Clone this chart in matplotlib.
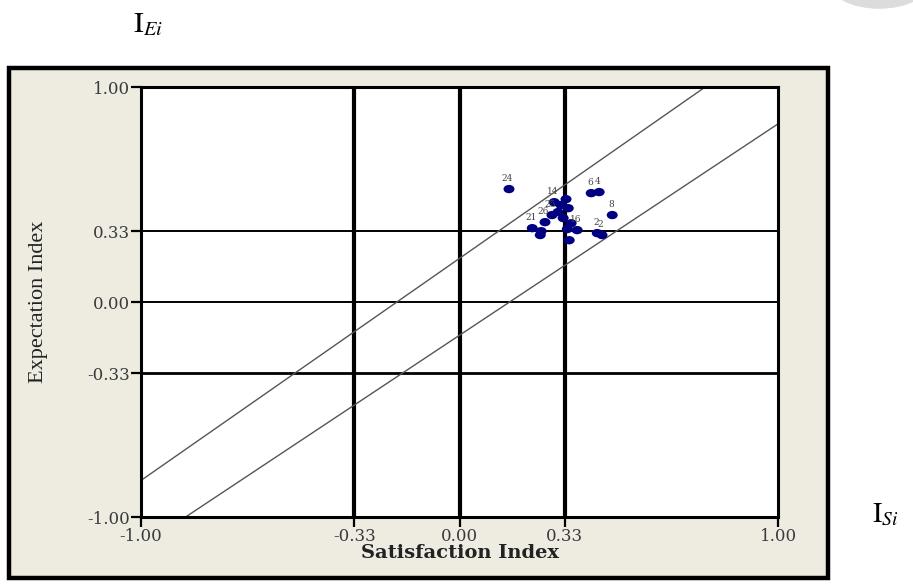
import matplotlib.pyplot as plt
from matplotlib.markers import MarkerStyle
from matplotlib.patches import Rectangle, Ellipse
from matplotlib.transforms import Affine2D

# satisfaction (x) / expectation (y) index per item
sat_index = [0.155, 0.413, 0.438, 0.479, 0.432, 0.447, 0.297, 0.334, 0.341,
             0.290, 0.309, 0.325, 0.268, 0.228, 0.256, 0.253, 0.350, 0.369,
             0.338, 0.344, 0.318]
exp_index = [0.526, 0.507, 0.512, 0.405, 0.321, 0.312, 0.465, 0.479, 0.437,
             0.405, 0.419, 0.391, 0.372, 0.344, 0.330, 0.312, 0.367, 0.335,
             0.340, 0.288, 0.452]
item_labels = ["24", "6", "4", "8", "2", "2", "14", "", "",
               "25", "", "", "26", "21", "", "", "", "16",
               "", "", ""]

# tolerance band boundaries (endpoints)
upper_x = [-1.0, 0.77]
upper_y = [-0.83, 1.0]
lower_x = [-0.86, 1.0]
lower_y = [-1.0, 0.83]

ticks = [-1.0, -0.33, 0.0, 0.33, 1.0]
tick_labels = ["-1.00", "-0.33", "0.00", "0.33", "1.00"]
quad_lines = [-0.33, 0.0, 0.33]

plt.rcParams['font.family'] = ['DejaVu Serif']
plt.rcParams['mathtext.fontset'] = 'stix'

fig = plt.figure(figsize=(9.13, 5.84), dpi=100)

# beige panel with heavy black border around the plot
fig.add_artist(Rectangle((0.0095, 0.0105), 0.897, 0.873, transform=fig.transFigure,
                         facecolor="#eeebe1", edgecolor="black", linewidth=3.2, zorder=0))
fig.add_artist(Ellipse((0.963, 1.03), 0.11, 0.09, transform=fig.transFigure,
                       facecolor="#dcdcdc", edgecolor="none", zorder=0))

ax = fig.add_axes([0.1544, 0.1147, 0.698, 0.736])
ax.set_facecolor("white")
ax.set_xlim(-1, 1)
ax.set_ylim(-1, 1)

for v in quad_lines:
    ax.axvline(v, color="black", linewidth=3.0, zorder=1)
for v, w in zip(quad_lines, [2.0, 1.4, 1.4]):
    ax.axhline(v, color="black", linewidth=w, zorder=1)

ax.plot(upper_x, upper_y, color="#555555", linewidth=1.0, zorder=2)
ax.plot(lower_x, lower_y, color="#555555", linewidth=1.0, zorder=2)

dot = MarkerStyle("o", transform=Affine2D().scale(1.25, 0.95))
ax.scatter(sat_index, exp_index, s=40, marker=dot, color="#000080",
           edgecolors="none", zorder=3)
for x, y, lab in zip(sat_index, exp_index, item_labels):
    if lab:
        ax.annotate(lab, (x, y), xytext=(-1, 4.5), textcoords="offset points",
                    ha="center", va="bottom", fontsize=6.5, color="#444444", zorder=4)

for side in ["left", "bottom", "top", "right"]:
    ax.spines[side].set_linewidth(2.2)
    ax.spines[side].set_color("black")

ax.set_xticks(ticks)
ax.set_xticklabels(tick_labels)
ax.set_yticks(ticks)
ax.set_yticklabels(tick_labels)
ax.tick_params(direction="out", length=7, width=1.6, labelsize=12,
               labelcolor="#3a3a3a", pad=1)

ax.set_xlabel("Satisfaction Index", fontsize=14, fontweight="bold",
              color="#222222")
ax.xaxis.set_label_coords(0.5, -0.062)
ax.set_ylabel("Expectation Index", fontsize=16, color="#222222",
              family="Liberation Serif")
ax.yaxis.set_label_coords(-0.146, 0.5)

fig.text(0.146, 0.958, r"$\mathrm{I}_{Ei}$", fontsize=21, ha="left", va="center")
fig.text(0.955, 0.118, r"$\mathrm{I}_{Si}$", fontsize=20, ha="left", va="center")

fig.savefig("out.png", dpi=100)
